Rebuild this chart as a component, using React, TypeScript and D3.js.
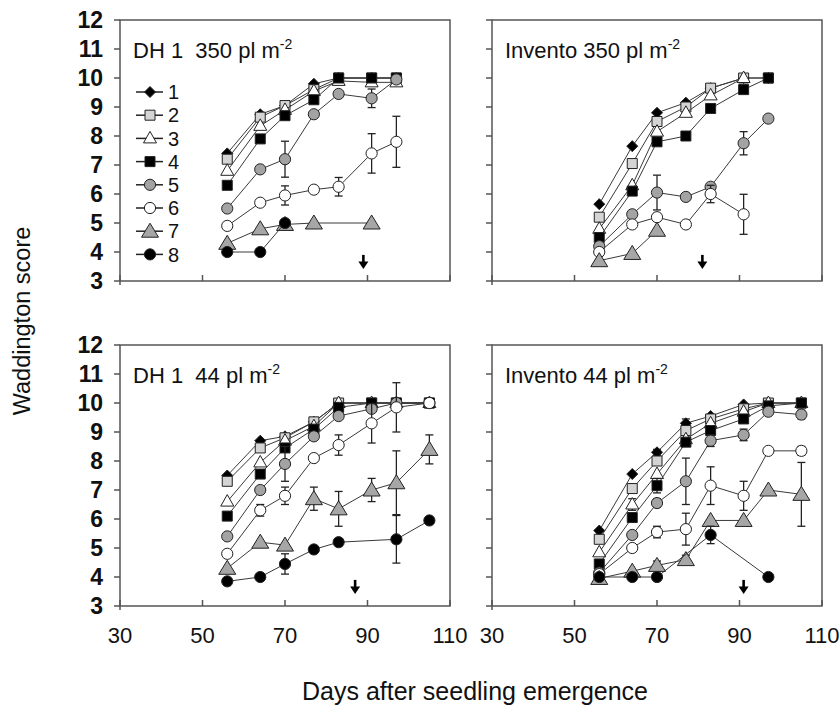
import React from 'react';
import * as d3 from 'd3';

// sampling days (days after seedling emergence)
const days = [56, 64, 70, 77, 83, 91, 97, 105];
const seriesNames = ['1', '2', '3', '4', '5', '6', '7', '8'];
const xTicks = [30, 50, 70, 90, 110];
const yTicks = [3, 4, 5, 6, 7, 8, 9, 10, 11, 12];

// Waddington score per series (rows = series 1..8, columns = days)
const dh350 = [
  [7.4, 8.75, 9.05, 9.8, 10, 10, 10, null],
  [7.2, 8.65, 9.05, 9.6, 10, 10, 10, null],
  [6.8, 8.35, 8.9, 9.55, 9.9, 9.85, 9.85, null],
  [6.3, 7.9, 8.7, 9.25, 10, 10, 10, null],
  [5.5, 6.85, 7.2, 8.75, 9.45, 9.3, 9.95, null],
  [4.9, 5.7, 5.95, 6.15, 6.25, 7.4, 7.8, null],
  [4.3, 4.8, 4.95, 5, null, 5, null, null],
  [4, 4, 5, null, null, null, null, null],
];
const dh350Err = [
  [], [], [], [],
  [0, 0, 0.62, 0, 0, 0.32, 0, 0],
  [0, 0.1, 0.33, 0, 0.32, 0.68, 0.88, 0],
  [], [],
];

const inv350 = [
  [5.65, 7.65, 8.8, 9.15, 9.65, 10, 10, null],
  [5.2, 7.05, 8.5, 9.0, 9.65, 10, 10, null],
  [4.8, 6.3, 8.15, 8.8, 9.4, 10, null, null],
  [4.5, 6.1, 7.8, 8.0, 8.95, 9.6, 10, null],
  [4.2, 5.3, 6.05, 5.9, 6.25, 7.75, 8.6, null],
  [4.0, 4.95, 5.2, 4.95, 6.0, 5.3, null, null],
  [3.7, 3.95, 4.75, null, null, null, null, null],
  [null, null, null, null, null, null, null, null],
];
const inv350Err = [
  [], [], [], [],
  [0, 0, 0.6, 0.12, 0, 0.4, 0, 0],
  [0, 0, 0.12, 0, 0.3, 0.69, 0, 0],
  [], [],
];

const dh44 = [
  [7.5, 8.7, 8.85, 9.35, 10, 10, 10, 10],
  [7.3, 8.45, 8.8, 9.35, 10, 10, 10, 10],
  [6.6, 7.95, 8.7, 9.2, 10, 10, 10, 10],
  [6.1, 7.55, 8.45, 9.1, 9.85, 10, 10, 10],
  [5.4, 7.0, 7.9, 8.85, 9.55, 9.8, 10, 10],
  [4.8, 6.3, 6.8, 8.1, 8.55, 9.3, 9.85, 10],
  [4.3, 5.2, 5.1, 6.7, 6.35, 7.0, 7.25, 8.4],
  [3.85, 4.0, 4.45, 4.95, 5.2, null, 5.3, 5.95],
];
const dh44Err = [
  [], [], [], [],
  [0, 0, 0.6, 0, 0, 0, 0, 0],
  [0, 0.2, 0.3, 0, 0.35, 0.68, 0.85, 0],
  [0, 0, 0, 0.4, 0.6, 0.4, 1.1, 0.5],
  [0, 0, 0.35, 0, 0, 0, 0.82, 0],
];

const inv44 = [
  [5.6, 7.55, 8.3, 9.3, 9.55, 9.95, 10, 10],
  [5.3, 7.05, 8.0, 9.05, 9.45, 9.8, 10, 10],
  [4.85, 6.5, 7.55, 8.75, 9.3, 9.7, 10, 10],
  [4.45, 6.05, 7.15, 8.65, 9.05, 9.45, 9.9, 10],
  [4.15, 5.45, 6.55, 7.3, 8.7, 8.9, 9.7, 9.6],
  [4.1, 5.0, 5.55, 5.65, 7.15, 6.8, 8.35, 8.35],
  [3.95, 4.2, 4.4, 4.6, 5.95, 5.95, 7.0, 6.85],
  [4.0, 4.0, 4.0, null, 5.45, null, 4.0, null],
];
const inv44Err = [
  [0, 0, 0.1, 0.15, 0, 0, 0, 0],
  [],
  [0, 0.2, 0, 0, 0, 0, 0, 0],
  [0, 0, 0.25, 0, 0, 0, 0, 0],
  [0, 0, 0.15, 0.8, 0.2, 0.2, 0, 0.15],
  [0, 0, 0.2, 0.55, 0.65, 0.5, 0, 0.15],
  [0, 0, 0.15, 0.15, 0, 0, 0, 1.1],
  [0, 0, 0, 0, 0.3, 0, 0, 0],
];

const titles = [
  ['DH 1  350 pl m', '-2'],
  ['Invento 350 pl m', '-2'],
  ['DH 1  44 pl m', '-2'],
  ['Invento 44 pl m', '-2'],
];
const arrowDays = [89, 81, 87, 91];

const font = '"Liberation Sans", Arial, sans-serif';
const lineColor = '#3a3a3a';
const frameColor = '#555';

const markerFill = ['#000', '#d4d4d4', '#fff', '#000', '#a3a3a3', '#fff', '#a6a6a6', '#000'];

function markerPath(i: number): string {
  switch (i) {
    case 0: return 'M0,-5.5L5.5,0L0,5.5L-5.5,0Z';
    case 1:
    case 3: return 'M-5,-5H5V5H-5Z';
    case 2: return 'M0,-7L6.5,4.5H-6.5Z';
    case 6: return 'M0,-8L8.5,6H-8.5Z';
    default: return d3.arc()({ innerRadius: 0, outerRadius: 5.6, startAngle: 0, endAngle: 2 * Math.PI } as any) || '';
  }
}

function Panel({ left, top, data, err, title, arrowDay, showYLabels, showXLabels, legend }: any) {
  const x = d3.scaleLinear().domain([30, 110]).range([left, left + 330]);
  const y = d3.scaleLinear().domain([3, 12]).range([top + 261, top]);
  const line = d3.line<[number, number]>().x(d => x(d[0])).y(d => y(d[1]));

  return (
    <g>
      <rect x={left} y={top} width={330} height={261} fill="none" stroke={frameColor} strokeWidth={1.5} />
      <line x1={left} x2={left} y1={y(3)} y2={y(3) + 4} stroke={frameColor} strokeWidth={1.5} />
      {yTicks.map(t => (
        <g key={t}>
          <line x1={left - 6} x2={left} y1={y(t)} y2={y(t)} stroke={frameColor} strokeWidth={1.5} />
          {showYLabels && (
            <text x={left - 17} y={y(t)} dy="0.36em" textAnchor="end" fontSize={23} fontWeight="bold" fontFamily={font} fill="#111">{t}</text>
          )}
        </g>
      ))}
      {xTicks.map(t => (
        <g key={t}>
          <line x1={x(t)} x2={x(t)} y1={y(3)} y2={y(3) - 6} stroke={frameColor} strokeWidth={1.5} />
          {showXLabels && (
            <text x={x(t)} y={y(3) + 37} textAnchor="middle" fontSize={22} fontFamily={font} fill="#111">{t}</text>
          )}
        </g>
      ))}
      <text x={left + 13} y={top + 38} fontSize={22} fontFamily={font} fill="#111" style={{ whiteSpace: 'pre' }}>
        {title[0]}<tspan dy={-9} fontSize={14}>{title[1]}</tspan>
      </text>

      {data.map((vals: (number | null)[], si: number) => {
        const pts = days.map((d, k) => [d, vals[k]] as [number, number | null])
          .filter(p => p[1] != null) as [number, number][];
        const errs = err[si] || [];
        return (
          <g key={si}>
            <path d={line(pts) || ''} fill="none" stroke={lineColor} strokeWidth={1} />
            {days.map((d, k) => {
              const v = vals[k];
              const e = errs[k];
              if (v == null || !e) return null;
              return (
                <g key={k} stroke="#222" strokeWidth={1.3}>
                  <line x1={x(d)} x2={x(d)} y1={y(v - e)} y2={y(v + e)} />
                  <line x1={x(d) - 4} x2={x(d) + 4} y1={y(v - e)} y2={y(v - e)} />
                  <line x1={x(d) - 4} x2={x(d) + 4} y1={y(v + e)} y2={y(v + e)} />
                </g>
              );
            })}
            {pts.map((p, k) => (
              <path key={k} d={markerPath(si)} transform={`translate(${x(p[0])},${y(p[1])})`}
                fill={markerFill[si]} stroke="#222" strokeWidth={1} />
            ))}
          </g>
        );
      })}

      <g transform={`translate(${x(arrowDay)},${y(3.9)})`}>
        <line x1={0} x2={0} y1={0} y2={8} stroke="#000" strokeWidth={2.6} />
        <path d="M-5,6.5L5,6.5L0,14Z" fill="#000" />
      </g>

      {legend && seriesNames.map((n, i) => {
        const ly = top + 72 + i * 23.2;
        return (
          <g key={n}>
            <line x1={left + 16} x2={left + 43} y1={ly} y2={ly} stroke="#222" strokeWidth={1.5} />
            <path d={markerPath(i)} transform={`translate(${left + 30},${ly})`} fill={markerFill[i]} stroke="#222" strokeWidth={1} />
            <text x={left + 48} y={ly} dy="0.36em" fontSize={20} fontFamily={font} fill="#111">{n}</text>
          </g>
        );
      })}
    </g>
  );
}

export default function App() {
  const panels = [
    { left: 120, top: 20, data: dh350, err: dh350Err },
    { left: 492, top: 20, data: inv350, err: inv350Err },
    { left: 120, top: 345, data: dh44, err: dh44Err },
    { left: 492, top: 345, data: inv44, err: inv44Err },
  ];
  return (
    <svg width={840} height={712} style={{ position: 'absolute', left: 0, top: 0, background: '#fff' }}>
      {panels.map((p, i) => (
        <Panel key={i} {...p} title={titles[i]} arrowDay={arrowDays[i]}
          showYLabels={i % 2 === 0} showXLabels={i >= 2} legend={i === 0} />
      ))}
      <text transform="translate(30,321) rotate(-90)" textAnchor="middle" fontSize={23.5} fontFamily={font} fill="#111">Waddington score</text>
      <text x={475} y={700} textAnchor="middle" fontSize={25} fontFamily={font} fill="#111">Days after seedling emergence</text>
    </svg>
  );
}
